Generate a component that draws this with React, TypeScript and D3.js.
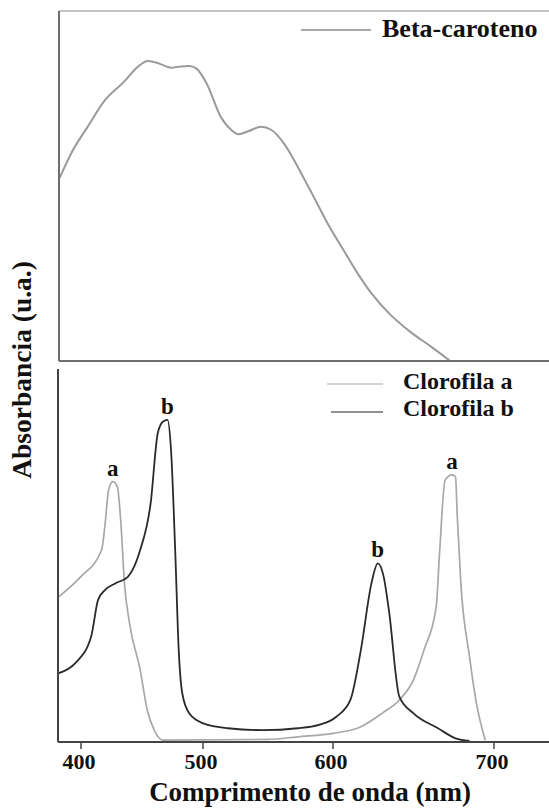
import React from "react";
import * as d3 from "d3";

// Wavelength (nm) ticks of the shared x axis
const xTicks = [400, 500, 600, 700];

// Beta-caroteno absorbance (a.u.) vs wavelength (nm)
const betaCaroteno: [number, number][] = [
  [382.5, 0.523], [393.0, 0.6], [405.4, 0.669], [419.8, 0.746], [434.1, 0.794], [448.5, 0.846],
  [454.3, 0.857], [461.4, 0.853], [474.3, 0.838], [480.1, 0.841], [488.7, 0.843],
  [494.4, 0.836], [502.8, 0.793], [513.6, 0.698], [521.8, 0.66], [527.2, 0.648],
  [535.2, 0.657], [544.6, 0.669], [552.7, 0.66], [562.2, 0.622], [575.6, 0.536],
  [586.4, 0.46], [597.2, 0.384], [606.5, 0.317], [615.2, 0.251], [623.9, 0.193],
  [634.8, 0.136], [647.8, 0.084], [660.9, 0.041], [672.8, 0.0],
];

// Clorofila a absorbance
const clorofilaA: [number, number][] = [
  [381.9, 0.391], [399.7, 0.444], [416.9, 0.516], [419.8, 0.588], [422.6, 0.677],
  [426.1, 0.7], [429.8, 0.686], [432.7, 0.588], [435.6, 0.427], [439.8, 0.319],
  [448.5, 0.194], [454.3, 0.086], [460.0, 0.032], [467.1, 0.005], [550.0, 0.007],
  [572.9, 0.014], [599.9, 0.023], [617.3, 0.041], [630.4, 0.077], [641.2, 0.113],
  [650.0, 0.167], [656.5, 0.247], [664.1, 0.364], [666.3, 0.516], [669.6, 0.704],
  [673.9, 0.718], [676.1, 0.713], [677.2, 0.606], [679.4, 0.427], [684.8, 0.229],
  [689.1, 0.104], [694.6, 0.005],
];

// Clorofila b absorbance
const clorofilaB: [number, number][] = [
  [381.9, 0.185], [395.3, 0.212], [408.3, 0.283], [414.0, 0.382], [419.8, 0.409],
  [428.4, 0.427], [438.4, 0.444], [448.5, 0.516], [457.1, 0.642], [462.9, 0.83],
  [467.1, 0.861], [470.9, 0.866], [473.8, 0.785], [477.2, 0.516], [480.1, 0.247],
  [483.0, 0.131], [488.7, 0.077], [500.2, 0.05], [519.1, 0.037], [546.0, 0.032],
  [572.9, 0.037], [589.1, 0.046], [602.1, 0.068], [610.8, 0.113], [617.3, 0.247],
  [623.9, 0.427], [627.8, 0.48], [631.5, 0.444], [634.7, 0.355], [641.2, 0.122],
  [650.0, 0.077], [665.2, 0.037], [676.1, 0.01], [684.8, 0.003],
];

// Peak annotations
const peakLabels = [
  { text: "a", nm: 426.1, value: 0.7 },
  { text: "b", nm: 470.9, value: 0.866 },
  { text: "b", nm: 627.8, value: 0.48 },
  { text: "a", nm: 673.9, value: 0.718 },
];

const legendTop = ["Beta-caroteno"];
const legendBottom = ["Clorofila a", "Clorofila b"];

const W = 549;
const H = 809;
const serif = { fontFamily: '"Liberation Serif", "DejaVu Serif", serif', fontWeight: 700 } as const;

export default function App() {
  // The original axis is non-uniform; piecewise linear scale through tick positions
  const x = d3.scaleLinear().domain(xTicks).range([81, 203, 333, 494]);
  const yTop = d3.scaleLinear().domain([0, 1]).range([361, 11]);
  const yBot = d3.scaleLinear().domain([0, 1]).range([742, 370]);

  const lineTop = d3
    .line<[number, number]>()
    .x((d) => x(d[0]))
    .y((d) => yTop(d[1]))
    .curve(d3.curveMonotoneX);
  const lineBot = d3
    .line<[number, number]>()
    .x((d) => x(d[0]))
    .y((d) => yBot(d[1]))
    .curve(d3.curveMonotoneX);

  const leftTop = 59;
  const leftBot = 58;

  return (
    <svg
      width={W}
      height={H}
      style={{ position: "absolute", left: 0, top: 0, background: "#fff" }}
    >
      <rect x={0} y={0} width={W} height={H} fill="#fff" />

      {/* ---------- top panel ---------- */}
      <path d={lineTop(betaCaroteno) || ""} fill="none" stroke="#9a9a9a" strokeWidth={2} />
      <line x1={leftTop} x2={W} y1={yTop(1)} y2={yTop(1)} stroke="#c4c4c4" strokeWidth={2} />
      <line x1={leftTop} x2={leftTop} y1={yTop(1)} y2={yTop(0)} stroke="#6e6e6e" strokeWidth={2} />
      <line x1={leftTop} x2={W} y1={yTop(0)} y2={yTop(0)} stroke="#6e6e6e" strokeWidth={2} />

      {/* top legend */}
      <line x1={301} x2={371} y1={30} y2={30} stroke="#555" strokeWidth={1.2} />
      <text x={382} y={37} fontSize={26} fill="#111" style={serif}>
        {legendTop[0]}
      </text>

      {/* ---------- bottom panel ---------- */}
      <path d={lineBot(clorofilaA) || ""} fill="none" stroke="#a8a8a8" strokeWidth={1.7} />
      <path d={lineBot(clorofilaB) || ""} fill="none" stroke="#2a2a2a" strokeWidth={1.8} />
      <line x1={leftBot} x2={leftBot} y1={369} y2={yBot(0)} stroke="#444" strokeWidth={2} />
      <line x1={leftBot} x2={W} y1={yBot(0)} y2={yBot(0)} stroke="#444" strokeWidth={2} />
      {xTicks.map((t) => (
        <g key={t}>
          <line x1={x(t)} x2={x(t)} y1={yBot(0)} y2={yBot(0) + 7} stroke="#444" strokeWidth={1.5} />
          <text x={x(t) - 2} y={769} fontSize={22} textAnchor="middle" fill="#111" style={serif}>
            {t}
          </text>
        </g>
      ))}

      {peakLabels.map((p, i) => (
        <text
          key={i}
          x={x(p.nm)}
          y={yBot(p.value) - 6}
          fontSize={23}
          textAnchor="middle"
          fill="#111"
          style={serif}
        >
          {p.text}
        </text>
      ))}

      {/* bottom legend */}
      <line x1={327} x2={383} y1={384} y2={384} stroke="#aaa" strokeWidth={1.2} />
      <text x={403} y={389} fontSize={24} fill="#111" style={serif}>
        {legendBottom[0]}
      </text>
      <line x1={331} x2={383} y1={412} y2={412} stroke="#222" strokeWidth={1.2} />
      <text x={403} y={416} fontSize={24} fill="#111" style={serif}>
        {legendBottom[1]}
      </text>

      {/* axis titles */}
      <text x={310} y={801} fontSize={27} textAnchor="middle" fill="#111" style={serif}>
        Comprimento de onda (nm)
      </text>
      <text
        transform={`translate(31,370) rotate(-90)`}
        fontSize={27.5}
        textAnchor="middle"
        fill="#111"
        style={serif}
      >
        Absorbancia (u.a.)
      </text>
    </svg>
  );
}
